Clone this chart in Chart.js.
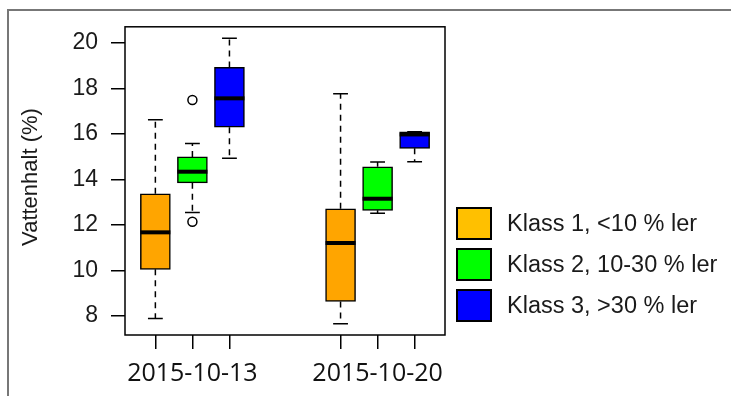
<!DOCTYPE html>
<html>
<head>
<meta charset="utf-8">
<script src="https://cdn.jsdelivr.net/npm/chart.js@4.4.1/dist/chart.umd.min.js"></script>
<style>
  body { margin: 0; background: #fff; }
  #wrap { position: relative; width: 731px; height: 396px; }
  #frame { position: absolute; left: 7px; top: 9px; right: 0; bottom: 0; border-top: 2px solid #777; border-left: 2px solid #777; pointer-events: none; }
  #legend { position: absolute; left: 456px; top: 203px; font: 23.5px "Liberation Sans", Arial, sans-serif; color: #1a1a1a; }
  .item { display: flex; align-items: center; height: 41px; }
  .swatch { width: 36px; height: 33px; box-sizing: border-box; border: 2px solid #000; margin-right: 15px; }
</style>
</head>
<body>
<div id="wrap">
  <canvas id="myChart" width="731" height="396"></canvas>
  <div id="frame"></div>
  <div id="legend"></div>
</div>
<script>
const dates = ['2015-10-13', '2015-10-20'];
const classNames = ['Klass 1, <10 % ler', 'Klass 2, 10-30 % ler', 'Klass 3, >30 % ler'];
const boxColors = ['#ffa500', '#00ff00', '#0000ff'];
const legendColors = ['#ffc000', '#00ff00', '#0000ff'];
const yTicks = [8, 10, 12, 14, 16, 18, 20];

// one entry per box: date 1 klass 1..3, then date 2 klass 1..3
const whiskerLow  = [7.88, 12.54, 14.93, 7.65, 12.51, 14.78];
const q1          = [10.04, 13.85, 16.30, 8.63, 12.64, 15.37];
const median      = [11.67, 14.34, 17.57, 11.20, 13.15, 15.98];
const q3          = [13.37, 14.99, 18.93, 12.71, 14.56, 16.10];
const whiskerHigh = [16.63, 15.58, 20.22, 17.77, 14.77, 16.10];
const outliers    = [[], [17.50, 12.14], [], [], [], []];

// box index -> x position (R style at = 1,2,3, 6,7,8)
const boxPos = (d, c) => d * 5 + c + 1;
const boxIndex = (d, c) => d * 3 + c;

const datasets = classNames.map((name, c) => ({
    type: 'bar',
    label: name,
    data: dates.map((_, d) => ({ x: boxPos(d, c), y: [q1[boxIndex(d, c)], q3[boxIndex(d, c)]] })),
    backgroundColor: boxColors[c],
    borderColor: '#000',
    borderWidth: 1.5,
    borderSkipped: false,
    barThickness: 30,
    grouped: false
}));

const outlierPoints = [];
dates.forEach((_, d) => classNames.forEach((_, c) => {
    outliers[boxIndex(d, c)].forEach(v => outlierPoints.push({ x: boxPos(d, c), y: v }));
}));
datasets.push({
    type: 'scatter',
    label: 'outliers',
    data: outlierPoints,
    pointRadius: 4.5,
    pointBackgroundColor: '#fff',
    pointBorderColor: '#000',
    pointBorderWidth: 1.5
});

const boxplotPlugin = {
    id: 'boxplot',
    beforeDatasetsDraw(chart) {
        const { ctx, scales: { x, y } } = chart;
        ctx.save();
        ctx.strokeStyle = '#000';
        ctx.lineWidth = 1.5;
        dates.forEach((_, d) => classNames.forEach((_, c) => {
            const i = boxIndex(d, c);
            const px = x.getPixelForValue(boxPos(d, c));
            const capL = x.getPixelForValue(boxPos(d, c) - 0.2);
            const capR = x.getPixelForValue(boxPos(d, c) + 0.2);
            // dashed whiskers
            ctx.setLineDash([6, 5]);
            ctx.beginPath();
            ctx.moveTo(px, y.getPixelForValue(q3[i]));
            ctx.lineTo(px, y.getPixelForValue(whiskerHigh[i]));
            ctx.moveTo(px, y.getPixelForValue(q1[i]));
            ctx.lineTo(px, y.getPixelForValue(whiskerLow[i]));
            ctx.stroke();
            // caps
            ctx.setLineDash([]);
            ctx.beginPath();
            ctx.moveTo(capL, y.getPixelForValue(whiskerHigh[i]));
            ctx.lineTo(capR, y.getPixelForValue(whiskerHigh[i]));
            ctx.moveTo(capL, y.getPixelForValue(whiskerLow[i]));
            ctx.lineTo(capR, y.getPixelForValue(whiskerLow[i]));
            ctx.stroke();
        }));
        ctx.restore();
    },
    afterDatasetsDraw(chart) {
        const { ctx, scales: { x, y } } = chart;
        ctx.save();
        ctx.strokeStyle = '#000';
        ctx.lineWidth = 4;
        dates.forEach((_, d) => classNames.forEach((_, c) => {
            const i = boxIndex(d, c);
            const px = x.getPixelForValue(boxPos(d, c));
            const py = y.getPixelForValue(median[i]);
            ctx.beginPath();
            ctx.moveTo(px - 15, py);
            ctx.lineTo(px + 15, py);
            ctx.stroke();
        }));
        ctx.restore();
    },
    afterDraw(chart) {
        const { ctx, chartArea: a } = chart;
        ctx.save();
        ctx.strokeStyle = '#000';
        ctx.lineWidth = 1.5;
        ctx.strokeRect(a.left, a.top, a.right - a.left, a.bottom - a.top);
        // y axis title
        ctx.translate(31, 177);
        ctx.rotate(-Math.PI / 2);
        ctx.fillStyle = '#1a1a1a';
        ctx.font = '22px "Liberation Sans", Arial, sans-serif';
        ctx.textAlign = 'center';
        ctx.textBaseline = 'middle';
        ctx.fillText('Vattenhalt (%)', 0, 0);
        ctx.restore();
    }
};

const xTickValues = [];
dates.forEach((_, d) => classNames.forEach((_, c) => xTickValues.push(boxPos(d, c))));

new Chart(document.getElementById('myChart'), {
    type: 'bar',
    data: { datasets: datasets },
    options: {
        responsive: false,
        animation: false,
        layout: { padding: { top: 26, right: 286, left: 0, bottom: 0 } },
        plugins: { legend: { display: false }, tooltip: { enabled: false } },
        scales: {
            x: {
                type: 'linear',
                min: 0.18,
                max: 8.82,
                offset: false,
                afterBuildTicks: (scale) => { scale.ticks = xTickValues.map(v => ({ value: v })); },
                afterFit: (scale) => { scale.height = 61; },
                border: { display: false },
                grid: { offset: false, drawOnChartArea: false, drawTicks: true, tickLength: 14, color: '#000', lineWidth: 1.5 },
                ticks: {
                    autoSkip: false,
                    maxRotation: 0,
                    padding: 10,
                    color: '#111',
                    font: { family: '"Open Sans", sans-serif', size: 25 },
                    callback: (value) => {
                        const d = dates.findIndex((_, k) => boxPos(k, 1) === value);
                        return d >= 0 ? dates[d] : '';
                    }
                }
            },
            y: {
                min: 7.15,
                max: 20.72,
                afterBuildTicks: (scale) => { scale.ticks = yTicks.map(v => ({ value: v })); },
                afterFit: (scale) => { scale.width = 125; },
                border: { display: false },
                grid: { drawOnChartArea: false, drawTicks: true, tickLength: 14, color: '#000', lineWidth: 1.5 },
                ticks: {
                    padding: 13,
                    color: '#1a1a1a',
                    font: { family: '"Liberation Sans", Arial, sans-serif', size: 23 }
                }
            }
        }
    },
    plugins: [boxplotPlugin]
});

const legend = document.getElementById('legend');
classNames.forEach((name, c) => {
    const item = document.createElement('div');
    item.className = 'item';
    item.innerHTML = '<div class="swatch" style="background:' + legendColors[c] + '"></div><span></span>';
    item.querySelector('span').textContent = name;
    legend.appendChild(item);
});
</script>
</body>
</html>
